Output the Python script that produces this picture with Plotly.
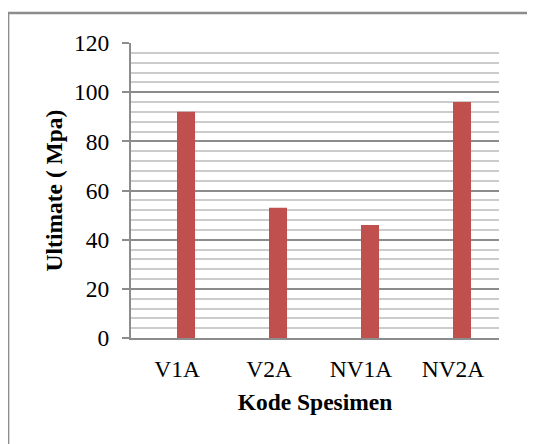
import plotly.graph_objects as go

categories = ["V1A", "V2A", "NV1A", "NV2A"]
values = [92, 53, 46, 96]
y_ticks = [0, 20, 40, 60, 80, 100, 120]

fig = go.Figure()
fig.add_trace(go.Bar(
    x=categories, y=values,
    marker=dict(color="#C0504D", line=dict(width=0)),
    width=0.196, offset=0,
))

font_family = "Liberation Serif"
fs = 23.5

fig.update_layout(
    width=527, height=436,
    margin=dict(l=123, r=36, t=35, b=106),
    paper_bgcolor="white", plot_bgcolor="white",
    showlegend=False,
    font=dict(family=font_family, size=fs, color="black"),
    xaxis=dict(
        range=[-0.5, 3.5],
        showgrid=False,
        showline=True, linecolor="#8c8c8c", linewidth=2,
        ticks="",
        ticklabelstandoff=9,
        tickfont=dict(family=font_family, size=fs, color="black"),
        title=dict(text="<b>Kode Spesimen</b>", font=dict(family=font_family, size=fs, color="black"), standoff=12),
    ),
    yaxis=dict(
        range=[0, 120],
        tickvals=y_ticks,
        showgrid=True, gridcolor="#8c8c8c", gridwidth=2,
        minor=dict(dtick=4, showgrid=True, gridcolor="#cccccc", gridwidth=2, ticks=""),
        showline=True, linecolor="#8c8c8c", linewidth=2,
        ticks="outside", ticklen=7, tickcolor="#8c8c8c", tickwidth=2,
        ticklabelstandoff=8,
        tickfont=dict(family=font_family, size=fs, color="black"),
        title=dict(text="<b>Ultimate ( Mpa)</b>", font=dict(family=font_family, size=fs, color="black"), standoff=5),
        zeroline=False,
    ),
    shapes=[
        dict(type="path", xref="paper", yref="paper",
             path="M -0.334,-0.45 L -0.334,1.1017 L 1.4,1.1017",
             line=dict(color="#8c8c8c", width=2.5)),
    ],
)

fig.write_html("out.html")
